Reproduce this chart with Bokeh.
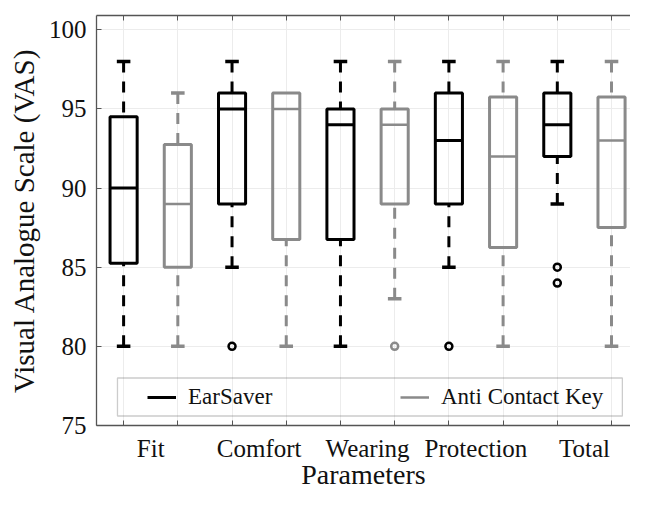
from bokeh.plotting import figure
from bokeh.models import (FixedTicker, LinearAxis, Legend, LegendItem, BoxAnnotation,
                          ColumnDataSource, Range1d)
from bokeh.embed import file_html
from bokeh.resources import INLINE

# ---------------- data ----------------
categories = ["Fit", "Comfort", "Wearing", "Protection", "Total"]
series_names = ["EarSaver", "Anti Contact Key"]

es_low = [80, 85, 80, 85, 89]
es_q1 = [85.25, 89, 86.75, 89, 92]
es_med = [90, 95, 94, 93, 94]
es_q3 = [94.5, 96, 95, 96, 96]
es_high = [98, 98, 98, 98, 98]
es_out_cat = ["Comfort", "Protection", "Total", "Total"]
es_out_val = [80, 80, 85, 84]

ak_low = [80, 80, 83, 80, 80]
ak_q1 = [85, 86.75, 89, 86.25, 87.5]
ak_med = [89, 95, 94, 92, 93]
ak_q3 = [92.75, 96, 95, 95.75, 95.75]
ak_high = [96, 96, 98, 98, 98]
ak_out_cat = ["Wearing"]
ak_out_val = [80]

y_ticks = [75, 80, 85, 90, 95, 100]

# ---------------- style ----------------
FONT = "Liberation Serif"
BLACK = "#000000"
GRAY = "#8a8a8a"
AXIS = "#555555"
GRID = "#ececec"
TXT = "#111111"

p = figure(width=630, height=492, output_backend="svg", toolbar_location=None,
           x_range=Range1d(0.5, 10.35), y_range=Range1d(75, 100.9),
           min_border_left=96, min_border_top=15, min_border_right=0, min_border_bottom=56)
p.outline_line_color = None
p.background_fill_color = "white"

box_w = 0.5
cap_half = 0.125


def draw_series(idx_offset, low, q1, med, q3, high, out_cat, out_val, color, lw, med_lw):
    pos = [2 * i + idx_offset for i in range(len(categories))]
    src = ColumnDataSource(dict(
        left=[x - box_w / 2 for x in pos], right=[x + box_w / 2 for x in pos],
        q1=q1, q3=q3, med=med, x=pos))
    up = [(x, h, t) for x, h, t in zip(pos, high, q3) if h > t]
    lo = [(x, l, b) for x, l, b in zip(pos, low, q1) if l < b]
    # dashed whisker stems (dash pattern starts at the whisker end) and caps
    for seg in (up, lo):
        p.segment(x0=[u[0] for u in seg], y0=[u[1] for u in seg],
                  x1=[u[0] for u in seg], y1=[u[2] for u in seg],
                  line_color=color, line_width=3, line_dash="11 9")
        p.segment(x0=[u[0] - cap_half for u in seg], x1=[u[0] + cap_half for u in seg],
                  y0=[u[1] for u in seg], y1=[u[1] for u in seg],
                  line_color=color, line_width=3.5)
    # boxes
    p.quad(left="left", right="right", bottom="q1", top="q3", source=src,
           fill_color="white", fill_alpha=0, line_color=color, line_width=lw)
    r_med = p.segment(x0="left", x1="right", y0="med", y1="med", source=src,
                      line_color=color, line_width=med_lw)
    # outliers
    ox = [2 * categories.index(c) + idx_offset for c in out_cat]
    p.scatter(x=ox, y=out_val, marker="circle", size=7, line_color=color,
              line_width=2.5, fill_color=None)
    return r_med


r_es = draw_series(1, es_low, es_q1, es_med, es_q3, es_high, es_out_cat, es_out_val, BLACK, 3, 3)
r_ak = draw_series(2, ak_low, ak_q1, ak_med, ak_q3, ak_high, ak_out_cat, ak_out_val, GRAY, 3, 2.5)

# ---------------- axes ----------------
label_pos = [2 * i + 1.5 for i in range(len(categories))]
box_pos = [float(i) for i in range(1, 2 * len(categories) + 1)]

p.xaxis.ticker = FixedTicker(ticks=label_pos, minor_ticks=box_pos)
p.xaxis.major_label_overrides = {lp: c for lp, c in zip(label_pos, categories)}
p.xaxis.major_tick_line_color = None
p.xaxis.minor_tick_in = 5
p.xaxis.minor_tick_out = 0
p.xaxis.minor_tick_line_color = AXIS
p.xaxis.axis_label = "Parameters"

p.yaxis.ticker = FixedTicker(ticks=y_ticks)
p.yaxis.minor_tick_line_color = None
p.yaxis.major_tick_in = 5
p.yaxis.major_tick_out = 0
p.yaxis.major_tick_line_color = AXIS
p.yaxis.axis_label = "Visual Analogue Scale (VAS)"

for ax in (p.xaxis[0], p.yaxis[0]):
    ax.axis_line_color = AXIS
    ax.axis_line_width = 1.3
    ax.major_label_text_font = FONT
    ax.major_label_text_font_size = "25px"
    ax.major_label_text_color = TXT
    ax.axis_label_text_font = FONT
    ax.axis_label_text_font_style = "normal"
    ax.axis_label_text_color = TXT

p.xaxis.axis_label_text_font_size = "28px"
p.yaxis.axis_label_text_font_size = "29px"
p.xaxis.major_label_standoff = 3
p.xaxis.axis_label_standoff = -6
p.yaxis.major_label_standoff = 10
p.yaxis.axis_label_standoff = 6

top = LinearAxis(ticker=FixedTicker(ticks=[], minor_ticks=box_pos))
top.major_tick_line_color = None
top.minor_tick_in = 5
top.minor_tick_out = 0
top.minor_tick_line_color = AXIS
top.axis_line_color = AXIS
top.axis_line_width = 1.3
top.major_label_standoff = 0
p.add_layout(top, "above")

# grid
p.xgrid.grid_line_color = None
p.xgrid.minor_grid_line_color = GRID
p.xgrid.minor_grid_line_width = 1
p.ygrid.ticker = FixedTicker(ticks=y_ticks)
p.ygrid.grid_line_color = GRID

# ---------------- legend ----------------
frame = BoxAnnotation(left=0.887, right=10.2, bottom=75.6, top=78.0,
                      fill_color=None, fill_alpha=0, line_color=AXIS, line_width=1.3)
p.add_layout(frame)

legend = Legend(items=[LegendItem(label=series_names[0], renderers=[r_es]),
                       LegendItem(label=series_names[1], renderers=[r_ak])],
                orientation="horizontal", location=(51, 15),
                padding=0, spacing=0, margin=0, glyph_width=29, label_standoff=12,
                label_width=212, border_line_color=None, background_fill_alpha=0,
                label_text_font=FONT, label_text_font_size="23px", label_text_color=TXT)
p.add_layout(legend)

open("out.html", "w").write(file_html(p, INLINE))
